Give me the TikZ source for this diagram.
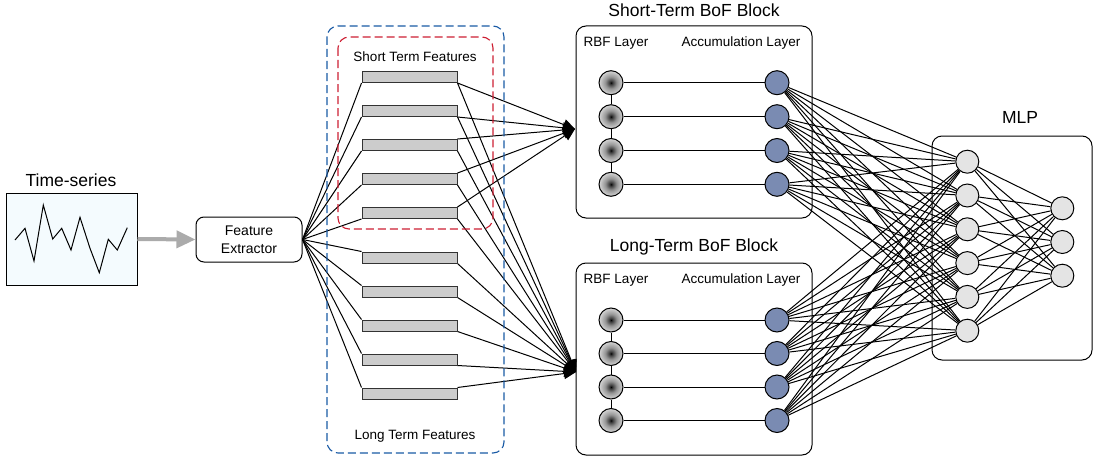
\documentclass[tikz,border=0pt]{standalone}
\usepackage{fontspec}
\setmainfont{Liberation Sans}
\usetikzlibrary{arrows.meta,backgrounds}
\definecolor{accblue}{RGB}{122,139,178}
\definecolor{dblue}{RGB}{25,90,165}
\definecolor{dred}{RGB}{205,30,50}
\definecolor{tsfill}{RGB}{244,251,254}
\definecolor{hidfill}{RGB}{228,228,228}
\pgfdeclareradialshading{rbfshade}{\pgfpoint{0bp}{0bp}}{color(0bp)=(black);color(3bp)=(black!78);color(12bp)=(black!42);color(25bp)=(black!16);color(50bp)=(black!16)}
\begin{document}
\begin{tikzpicture}[x=1pt,y=-1pt,
 title/.style={font=\fontsize{17.5}{20}\selectfont},
 lab/.style={font=\fontsize{13.5}{16}\selectfont},
 bar/.style={draw=black!80,fill=black!20,minimum width=95pt,minimum height=11pt,inner sep=0,line width=1pt},
 rbf/.style={circle,draw=black,line width=1pt,minimum size=24pt,inner sep=0,shading=rbfshade},
 acc/.style={circle,draw=black,line width=1pt,minimum size=24pt,inner sep=0,fill=accblue},
 hid/.style={circle,draw=black,line width=1pt,minimum size=23pt,inner sep=0,fill=hidfill},
 conn/.style={line width=1pt,black},
 tip/.style={-{Triangle[length=12pt,width=11pt]}},
 block/.style={draw=black,rounded corners=10pt,line width=1pt,inner sep=0},
]
\path[use as bounding box] (0,0) rectangle (1094,460);

% time series
\node[draw=black,fill=tsfill,line width=1pt,minimum width=131pt,minimum height=92pt,inner sep=0] (ts) at (71.5,239) {};
\node[title] (tstitle) at (71,180) {Time-series};
\draw[line width=1pt] (15,240) -- (25,228.3) -- (34,261) -- (43.3,205) -- (52.7,239) -- (61.7,228.3) -- (71,250) -- (80,217.3) -- (90,248.3) -- (99.3,272.7) -- (108.3,239.3) -- (117.3,250) -- (127.3,227.7);

% feature extractor
\node[draw=black,line width=1pt,rounded corners=8pt,minimum width=106pt,minimum height=45pt,inner sep=0,align=center,font=\fontsize{14}{18}\selectfont] (fe) at (249,239.5) {Feature\\Extractor};
\draw[line width=4pt,black!33,-{Triangle[length=19pt,width=17pt]}] (ts.east) -- (fe.west);

% dashed groups
\draw[dblue,line width=1.1pt,dash pattern=on 8pt off 4pt,rounded corners=11pt] (327,26) rectangle (504,453);
\draw[dred,line width=1.1pt,dash pattern=on 8pt off 4pt,rounded corners=11pt] (338,37) rectangle (493,229);
\node[lab] (stf) at (415,57) {Short Term Features};
\node[lab] (ltf) at (415,436) {Long Term Features};

% bars
\foreach \i/\y in {1/77,2/111,3/145,4/179,5/213} \node[bar] (s\i) at (409.5,\y) {};
\foreach \i/\y in {1/257.5,2/291.5,3/325.5,4/359.5,5/393.5} \node[bar] (l\i) at (409.5,\y) {};

\coordinate (sin) at (575,129);
\coordinate (lin) at (576,372);

% BoF blocks
\node[block,minimum width=236pt,minimum height=192pt] (sb) at (694,122) {};
\node[title] (sbt) at (694,10) {Short-Term BoF Block};
\node[lab] (sbr) at (616,43) {RBF Layer};
\node[lab] (sba) at (741,43) {Accumulation Layer};
\node[block,minimum width=236pt,minimum height=192pt] (lb) at (694,359) {};
\node[title] (lbt) at (694,246.5) {Long-Term BoF Block};
\node[lab] (lbr) at (616,280) {RBF Layer};
\node[lab] (lba) at (741,280) {Accumulation Layer};

\foreach \i/\y in {1/82.7,2/116.7,3/150.5,4/184.3} {
  \node[rbf] (sr\i) at (611,\y) {};
  \node[acc] (sa\i) at (777,\y) {};
}
\foreach \i/\y in {1/320,2/353.5,3/387,4/420.5} {
  \node[rbf] (lr\i) at (611,\y) {};
  \node[acc] (la\i) at (777,\y) {};
}

% MLP
\node[block,minimum width=160pt,minimum height=224pt] (mlp) at (1012,248) {};
\node[title] (mlpt) at (1020,117) {MLP};
\foreach \i/\y in {1/161.7,2/195.5,3/229.3,4/263.1,5/296.9,6/330.7} \node[hid] (h\i) at (967.3,\y) {};
\foreach \i/\y in {1/208.3,2/242,3/275.7} \node[hid] (o\i) at (1062.3,\y) {};

\begin{scope}[on background layer]
  \foreach \i in {1,...,5} {
    \draw[conn] (fe.east) -- (s\i.south west);
    \draw[conn] (fe.east) -- (l\i.north west);
    \draw[conn,tip] (s\i.south east) -- (lin);
  }
  \draw[conn,tip] (s1.south east) -- (sin);
  \draw[conn,tip] (s2.south east) -- (sin);
  \draw[conn,tip] (s3.north east) -- (sin);
  \draw[conn,tip] (s4.north east) -- (sin);
  \draw[conn,tip] (s5.north east) -- (sin);
  \draw[conn,tip] (l1.south east) -- (lin);
  \draw[conn,tip] (l2.south east) -- (lin);
  \draw[conn,tip] (l3.south east) -- (lin);
  \draw[conn,tip] (l4.south east) -- (lin);
  \draw[conn,tip] (l5.north east) -- (lin);
  \foreach \i in {1,...,4} {
    \draw[conn] (sr\i) -- (sa\i);
    \draw[conn] (lr\i) -- (la\i);
  }
  \foreach \i/\j in {1/2,2/3,3/4} {
    \draw[conn] (sr\i) -- (sr\j);
    \draw[conn] (lr\i) -- (lr\j);
  }
  \foreach \a in {sa1,sa2,sa3,sa4,la1,la2,la3,la4}
    \foreach \h in {1,...,6}
      \draw[conn] (\a) -- (h\h);
  \foreach \h in {1,...,6}
    \foreach \o in {1,2,3}
      \draw[conn] (h\h) -- (o\o);
\end{scope}
\end{tikzpicture}
\end{document}
